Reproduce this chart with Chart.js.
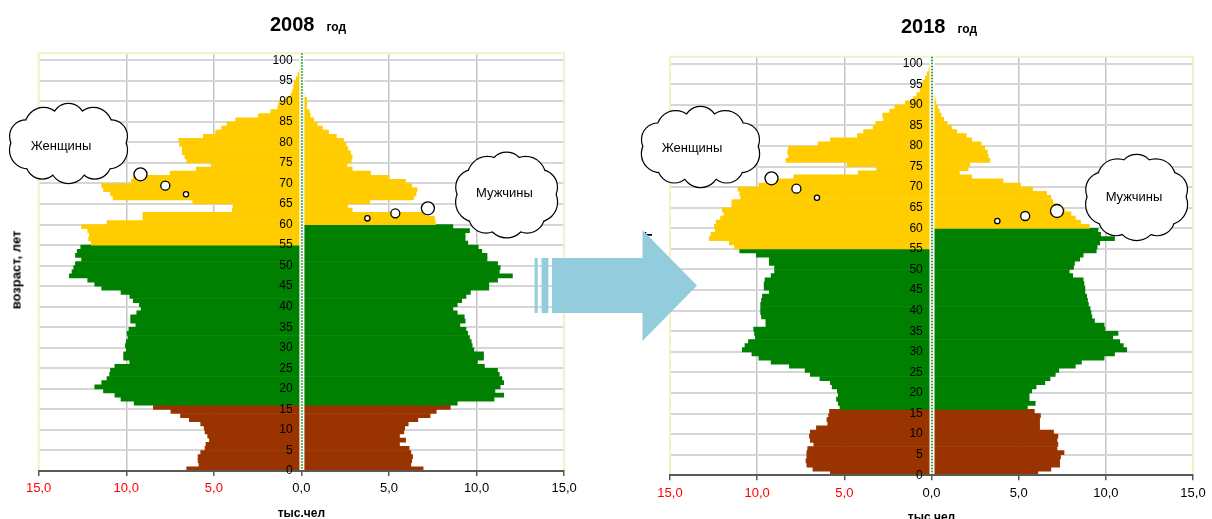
<!DOCTYPE html>
<html lang="ru">
<head>
<meta charset="utf-8">
<title>Половозрастная пирамида 2008 и 2018</title>
<script src="https://cdn.jsdelivr.net/npm/chart.js@4.4.1/dist/chart.umd.min.js"></script>
<style>
  html, body { margin: 0; padding: 0; width: 1212px; height: 519px; overflow: hidden; background: #fff; }
  body { position: relative; font-family: "Liberation Sans", Arial, sans-serif; }
  canvas { position: absolute; top: 0; }
  #c2008 { left: 0; }
  #c2018 { left: 606px; }
  .title { position: absolute; font-weight: bold; white-space: nowrap; line-height: 22px; color: #000; }
  .title .year { font-size: 20px; }
  .title .god { font-size: 12px; margin-left: 12px; }
  .ytitle { position: absolute; font-weight: bold; font-size: 13px; white-space: nowrap; color: #000;
            transform: translate(-50%, -50%) rotate(-90deg); }
  #decor { position: absolute; left: 0; top: 0; }
</style>
</head>
<body>
<canvas id="c2008" width="600" height="530"></canvas>
<canvas id="c2018" width="606" height="530"></canvas>
<div class="title" style="left:270px; top:13px;"><span class="year">2008</span><span class="god">год</span></div>
<div class="title" style="left:901px; top:15px;"><span class="year">2018</span><span class="god">год</span></div>
<div class="ytitle" style="left:16px; top:270px;">возраст, лет</div>
<div class="ytitle" style="left:647px; top:271px;">возраст, лет</div>
<svg id="decor" width="1212" height="519"></svg>

<script>
// возраст (лет) - одна полоска на каждый год
const ages = [0, 1, 2, 3, 4, 5, 6, 7, 8, 9, 10, 11, 12, 13, 14, 15, 16, 17, 18, 19,
  20, 21, 22, 23, 24, 25, 26, 27, 28, 29, 30, 31, 32, 33, 34, 35, 36, 37, 38, 39,
  40, 41, 42, 43, 44, 45, 46, 47, 48, 49, 50, 51, 52, 53, 54, 55, 56, 57, 58, 59,
  60, 61, 62, 63, 64, 65, 66, 67, 68, 69, 70, 71, 72, 73, 74, 75, 76, 77, 78, 79,
  80, 81, 82, 83, 84, 85, 86, 87, 88, 89, 90, 91, 92, 93, 94, 95, 96, 97, 98, 99, 100];

// тыс. человек, 2008 год
const women2008 = [6.55, 5.85, 5.9, 5.9, 5.75, 5.5, 5.45, 5.25, 5.35, 5.5,
  5.55, 5.75, 6.4, 6.9, 7.45, 8.45, 9.55, 10.3, 10.65, 11.3,
  11.8, 11.4, 11.1, 10.95, 10.9, 10.65, 9.8, 10.15, 10.15, 10.0,
  10.05, 10.0, 9.9, 9.95, 9.85, 9.45, 9.75, 9.75, 9.4, 9.15,
  9.25, 9.6, 9.8, 10.3, 11.4, 11.8, 12.2, 13.25, 13.1, 13.0,
  12.9, 12.55, 12.9, 12.8, 12.6, 12.0, 12.15, 12.1, 12.2, 12.55,
  11.1, 9.05, 9.05, 3.95, 3.9, 6.2, 10.75, 10.9, 11.3, 11.4,
  9.7, 9.6, 7.5, 6.0, 5.15, 6.55, 6.65, 6.8, 6.8, 6.95,
  7.0, 5.6, 4.9, 4.55, 4.25, 3.75, 2.45, 1.75, 1.35, 1.3,
  0.9, 0.6, 0.5, 0.45, 0.4, 0.3, 0.2, 0.1, 0.06, 0.03, 0.02];
const men2008 = [6.95, 6.25, 6.3, 6.35, 6.25, 6.15, 5.6, 5.95, 5.6, 5.85,
  5.9, 6.1, 6.65, 7.35, 7.7, 8.5, 8.9, 11.0, 11.55, 11.05,
  11.35, 11.55, 11.45, 11.3, 11.2, 10.45, 10.05, 10.4, 10.4, 9.85,
  9.75, 9.7, 9.6, 9.5, 9.4, 9.05, 9.35, 9.3, 8.9, 8.65,
  8.9, 9.15, 9.4, 9.65, 10.7, 10.7, 11.2, 12.05, 11.3, 11.35,
  11.2, 10.6, 10.6, 10.3, 10.1, 9.5, 9.35, 9.35, 9.6, 8.65,
  7.65, 7.6, 7.1, 2.9, 2.65, 3.9, 6.4, 6.55, 6.6, 6.3,
  5.95, 5.0, 3.95, 2.9, 2.6, 2.85, 2.9, 2.8, 2.65, 2.55,
  2.4, 2.0, 1.55, 1.2, 0.9, 0.7, 0.5, 0.45, 0.3, 0.3,
  0.3, 0.15, 0.1, 0.08, 0.05, 0.03, 0.02, 0.01, 0, 0, 0];

// тыс. человек, 2018 год
const women2018 = [5.8, 6.8, 7.15, 7.2, 7.15, 7.15, 7.1, 6.75, 6.95, 7.0,
  6.95, 6.6, 5.95, 6.0, 5.9, 5.85, 5.25, 5.35, 5.45, 5.35,
  5.4, 5.7, 5.8, 6.4, 6.95, 7.25, 8.15, 9.2, 9.9, 10.3,
  10.85, 10.7, 10.5, 10.1, 10.15, 10.2, 9.5, 9.5, 9.75, 9.8,
  9.8, 9.8, 9.75, 9.7, 9.3, 9.6, 9.6, 9.55, 9.2, 9.0,
  9.0, 9.3, 9.3, 10.05, 11.0, 11.3, 11.6, 12.75, 12.65, 12.4,
  12.45, 12.35, 12.1, 11.9, 12.0, 11.45, 11.45, 10.95, 11.0, 11.1,
  9.9, 8.9, 7.9, 4.2, 3.15, 4.85, 8.35, 8.2, 8.25, 8.2,
  6.5, 5.8, 4.25, 3.9, 3.35, 3.2, 2.75, 2.8, 2.4, 2.1,
  1.5, 1.05, 0.85, 0.65, 0.6, 0.5, 0.35, 0.25, 0.15, 0.1, 0.05];
const men2018 = [6.1, 6.85, 7.35, 7.35, 7.4, 7.6, 7.2, 7.25, 7.2, 7.25,
  7.0, 6.2, 6.2, 6.2, 6.25, 5.9, 5.5, 5.95, 5.6, 5.6,
  5.75, 6.0, 6.5, 6.8, 7.1, 7.3, 8.25, 8.6, 9.9, 10.5,
  11.2, 11.0, 10.8, 10.4, 10.7, 9.95, 9.9, 9.35, 9.2, 9.15,
  9.1, 9.0, 8.95, 8.9, 8.8, 8.8, 8.75, 8.7, 8.1, 7.9,
  8.15, 8.2, 8.5, 8.7, 9.45, 9.5, 9.65, 10.5, 9.7, 9.55,
  9.05, 8.55, 8.25, 8.0, 7.65, 7.25, 6.95, 6.85, 6.6, 5.8,
  5.1, 4.1, 2.3, 1.6, 2.1, 2.2, 3.35, 3.25, 3.2, 3.05,
  2.85, 2.3, 2.0, 1.45, 1.15, 0.9, 0.7, 0.55, 0.45, 0.35,
  0.25, 0.2, 0.15, 0.1, 0.05, 0.04, 0.03, 0.02, 0.01, 0, 0];

// подписи шкал
const valueTicks = [-15, -10, -5, 0, 5, 10, 15];
const ageTickStep = 5;

// группы возрастов: моложе трудоспособного, трудоспособный, старше трудоспособного
const CHILD_MAX = 15;
const RETIRE_WOMEN = 55;
const RETIRE_MEN = 60;
const BROWN = '#993300', GREEN = '#008000', YELLOW = '#ffcc00';
const colorFor = (age, retire) => age <= CHILD_MAX ? BROWN : (age < retire ? GREEN : YELLOW);

const FONT = '"Liberation Sans", Arial, sans-serif';
Chart.defaults.font.family = FONT;

// белая полоса с зелёным пунктиром по нулю и светлая рамка области построения
const pyramidDecor = {
  id: 'pyramidDecor',
  beforeDatasetsDraw(chart) {
    const {ctx, chartArea: a} = chart;
    ctx.save();
    ctx.strokeStyle = '#f2f2c4';
    ctx.lineWidth = 2;
    ctx.beginPath();
    ctx.moveTo(a.left, a.bottom);
    ctx.lineTo(a.left, a.top);
    ctx.lineTo(a.right, a.top);
    ctx.lineTo(a.right, a.bottom);
    ctx.stroke();
    ctx.restore();
  },
  afterDatasetsDraw(chart) {
    const {ctx, chartArea: a, scales} = chart;
    const x0 = scales.x.getPixelForValue(0);
    ctx.save();
    ctx.fillStyle = '#fff';
    ctx.fillRect(x0 - 2, a.top, 5, a.bottom - a.top);
    ctx.strokeStyle = '#2f9a2f';
    ctx.lineWidth = 2;
    ctx.setLineDash([1.5, 1.5]);
    ctx.beginPath();
    ctx.moveTo(x0 + 0.5, a.top);
    ctx.lineTo(x0 + 0.5, a.bottom);
    ctx.stroke();
    ctx.restore();
  }
};

const buildPyramid = (id, women, men, layout) => new Chart(document.getElementById(id), {
  type: 'bar',
  data: {
    // полоска возраста a занимает отрезок [a, a+1] по оси возраста
    labels: ages.map(a => a + 0.5),
    datasets: [
      {
        label: 'Женщины',
        data: women.map(v => -v),
        backgroundColor: ctx => colorFor(ages[ctx.dataIndex], RETIRE_WOMEN)
      },
      {
        label: 'Мужчины',
        data: men,
        backgroundColor: ctx => colorFor(ages[ctx.dataIndex], RETIRE_MEN)
      }
    ]
  },
  options: {
    indexAxis: 'y',
    responsive: false,
    animation: false,
    layout: { padding: layout.padding },
    datasets: { bar: { barPercentage: 1, categoryPercentage: 1, borderWidth: 0 } },
    plugins: { legend: { display: false }, tooltip: { enabled: false } },
    scales: {
      x: {
        type: 'linear',
        min: valueTicks[0],
        max: valueTicks[valueTicks.length - 1],
        stacked: true,
        afterBuildTicks: scale => { scale.ticks = valueTicks.map(v => ({ value: v })); },
        afterFit: scale => { scale.height = layout.axisHeight; },
        grid: {
          color: ctx => (ctx.tick && Math.abs(ctx.tick.value) % 15 === 0) ? 'rgba(0,0,0,0)' : '#c4c4c4',
          lineWidth: 1.5,
          tickColor: '#595959',
          tickLength: 5,
          tickWidth: 1.5
        },
        border: { color: '#595959', width: 2, z: 1 },
        ticks: {
          padding: 5,
          maxRotation: 0,
          autoSkip: false,
          font: { size: 13 },
          color: ctx => ctx.tick.value < 0 ? '#ff0000' : '#000',
          callback: v => Math.abs(v).toFixed(1).replace('.', ',')
        },
        title: {
          display: true,
          text: 'тыс.чел',
          color: '#000',
          font: { size: 12, weight: 'bold' },
          padding: { top: 0, bottom: layout.titlePad }
        }
      },
      y: {
        type: 'linear',
        min: 0,
        max: 101.7,
        offset: false,
        stacked: true,
        position: { x: -0.5 },
        grid: { color: '#d6d6d6', lineWidth: 2, drawTicks: false, offset: false, z: -1 },
        border: { display: false },
        ticks: {
          stepSize: ageTickStep,
          includeBounds: false,
          autoSkip: false,
          padding: 0,
          z: 1,
          color: '#000',
          font: { size: 12 }
        }
      }
    }
  },
  plugins: [pyramidDecor]
});

buildPyramid('c2008', women2008, men2008, {
  padding: { left: 38.7, right: 35.9, top: 53.3, bottom: 0 }, axisHeight: 59, titlePad: 8.8
});
buildPyramid('c2018', women2018, men2018, {
  padding: { left: 64, right: 19, top: 56.7, bottom: 0 }, axisHeight: 54.7, titlePad: 4.8
});

// облака-выноски и стрелка между диаграммами
const svgNS = 'http://www.w3.org/2000/svg';
const decor = document.getElementById('decor');
const el = (tag, attrs, parent) => {
  const e = document.createElementNS(svgNS, tag);
  for (const k in attrs) e.setAttribute(k, attrs[k]);
  (parent || decor).appendChild(e);
  return e;
};

const clouds = [
  { cx: 68.5, cy: 143.5, rx: 60.5, ry: 39.5, text: 'Женщины', tx: 61, ty: 150,
    bubbles: [[140.5, 174.3, 6.5], [165.3, 185.7, 4.5], [186, 194.3, 2.6]] },
  { cx: 506.6, cy: 195, rx: 52, ry: 42.3, text: 'Мужчины', tx: 504.4, ty: 197,
    bubbles: [[427.9, 208.3, 6.5], [395.3, 213.3, 4.5], [367.4, 218.3, 2.7]] },
  { cx: 700.5, cy: 147, rx: 60.6, ry: 40, text: 'Женщины', tx: 692, ty: 152,
    bubbles: [[771.5, 178.3, 6.5], [796.4, 188.7, 4.5], [817, 197.7, 2.6]] },
  { cx: 1136.6, cy: 197.5, rx: 52, ry: 42.5, text: 'Мужчины', tx: 1134, ty: 201,
    bubbles: [[1057, 211, 6.5], [1025.2, 216, 4.5], [997.3, 221, 2.7]] }
];

const drawCloud = c => {
  const lobes = [];
  for (let i = 0; i < 10; i++) {
    const ang = (i * 36 + 18) * Math.PI / 180;
    const r = c.ry * (i % 2 ? 0.4 : 0.46);
    lobes.push([c.cx + Math.cos(ang) * (c.rx - r), c.cy + Math.sin(ang) * (c.ry - r), r]);
  }
  const outline = el('g', { fill: '#fff', stroke: '#000', 'stroke-width': 2.4 });
  const fill = el('g', { fill: '#fff' });
  [outline, fill].forEach(g => {
    lobes.forEach(([x, y, r]) => el('circle', { cx: x, cy: y, r }, g));
    el('ellipse', { cx: c.cx, cy: c.cy, rx: c.rx * 0.72, ry: c.ry * 0.62 }, g);
  });
  c.bubbles.forEach(([x, y, r]) => el('circle', { cx: x, cy: y, r, fill: '#fff', stroke: '#000', 'stroke-width': 1.3 }));
  const t = el('text', { x: c.tx, y: c.ty, 'font-size': 13, 'font-family': FONT, 'text-anchor': 'middle', fill: '#000' });
  t.textContent = c.text;
};
clouds.forEach(drawCloud);

// стрелка "2008 -> 2018"
const ARROW = '#93cddd';
el('rect', { x: 534.6, y: 258, width: 3.1, height: 55, fill: ARROW });
el('rect', { x: 541.5, y: 258, width: 6.9, height: 55, fill: ARROW });
el('polygon', { points: '552,258 642.5,258 642.5,230 697,285.5 642.5,341 642.5,313 552,313', fill: ARROW });
</script>
</body>
</html>
